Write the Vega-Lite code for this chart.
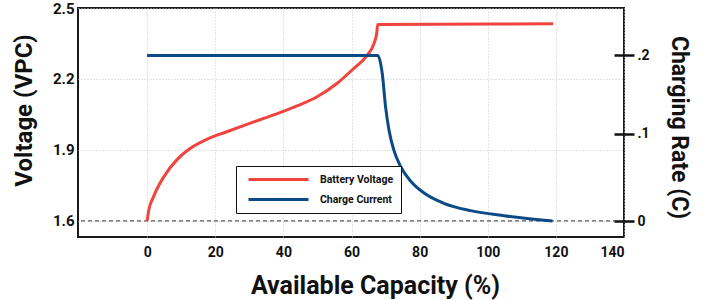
{
  "$schema": "https://vega.github.io/schema/vega-lite/v6.json",
  "width": 546,
  "height": 229,
  "autosize": {"type": "none"},
  "padding": {"left": 78, "top": 8, "right": 84, "bottom": 63},
  "background": "white",
  "config": {
    "font": "Roboto",
    "view": {"stroke": "#1a1a1a", "strokeWidth": 2},
    "axis": {"labelFont": "Roboto", "titleFont": "Roboto", "labelFontWeight": "bold", "titleFontWeight": "bold", "labelColor": "#111", "titleColor": "#111"}
  },
  "datasets": {
    "baseline": [{"level": 1.6}],
    "voltage": [
      {"series": "Battery Voltage", "capacity": 0, "value": 1.6},
      {"series": "Battery Voltage", "capacity": 0.4, "value": 1.64},
      {"series": "Battery Voltage", "capacity": 1.9, "value": 1.703},
      {"series": "Battery Voltage", "capacity": 4.9, "value": 1.787},
      {"series": "Battery Voltage", "capacity": 8.7, "value": 1.858},
      {"series": "Battery Voltage", "capacity": 12.7, "value": 1.907},
      {"series": "Battery Voltage", "capacity": 17.5, "value": 1.945},
      {"series": "Battery Voltage", "capacity": 23.4, "value": 1.977},
      {"series": "Battery Voltage", "capacity": 30.3, "value": 2.013},
      {"series": "Battery Voltage", "capacity": 37.1, "value": 2.048},
      {"series": "Battery Voltage", "capacity": 44.0, "value": 2.086},
      {"series": "Battery Voltage", "capacity": 49.9, "value": 2.125},
      {"series": "Battery Voltage", "capacity": 55.8, "value": 2.182},
      {"series": "Battery Voltage", "capacity": 60.7, "value": 2.245},
      {"series": "Battery Voltage", "capacity": 64.6, "value": 2.3},
      {"series": "Battery Voltage", "capacity": 66.6, "value": 2.35},
      {"series": "Battery Voltage", "capacity": 67.4, "value": 2.393},
      {"series": "Battery Voltage", "capacity": 67.7, "value": 2.43},
      {"series": "Battery Voltage", "capacity": 119.2, "value": 2.433}
    ],
    "current": [
      {"series": "Charge Current", "capacity": 0, "value": 0.2},
      {"series": "Charge Current", "capacity": 67.7, "value": 0.2},
      {"series": "Charge Current", "capacity": 69.0, "value": 0.1774},
      {"series": "Charge Current", "capacity": 70.0, "value": 0.134},
      {"series": "Charge Current", "capacity": 71.0, "value": 0.105},
      {"series": "Charge Current", "capacity": 72.4, "value": 0.0805},
      {"series": "Charge Current", "capacity": 74.4, "value": 0.0605},
      {"series": "Charge Current", "capacity": 77.4, "value": 0.0429},
      {"series": "Charge Current", "capacity": 81.4, "value": 0.0291},
      {"series": "Charge Current", "capacity": 87.1, "value": 0.018},
      {"series": "Charge Current", "capacity": 95.0, "value": 0.0101},
      {"series": "Charge Current", "capacity": 104.8, "value": 0.0049},
      {"series": "Charge Current", "capacity": 119.0, "value": 0.0}
    ]
  },
  "layer": [
    {
      "encoding": {
        "y": {
          "type": "quantitative",
          "scale": {"domain": [1.532, 2.5], "nice": false, "zero": false},
          "axis": {
            "orient": "left",
            "values": [1.6, 1.9, 2.2, 2.5],
            "format": ".1f",
            "title": "Voltage (VPC)",
            "titleFontSize": 24,
            "titleX": -54,
            "titleY": 102,
            "titleAngle": -90,
            "titleAlign": "center",
            "titleBaseline": "middle",
            "labelFontSize": 15,
            "labelPadding": 4,
            "ticks": false,
            "domain": false,
            "grid": true,
            "gridColor": "#c8c8c8",
            "gridDash": [1, 2],
            "gridWidth": 1
          }
        }
      },
      "layer": [
        {
          "data": {"name": "baseline"},
          "mark": {"type": "rule", "color": "#333", "strokeWidth": 1, "strokeDash": [4, 3]},
          "encoding": {
            "y": {"field": "level", "type": "quantitative"}
          }
        },
        {
          "data": {"name": "voltage"},
          "mark": {"type": "line", "strokeWidth": 3, "interpolate": "monotone"},
          "encoding": {
            "x": {
              "field": "capacity",
              "type": "quantitative",
              "scale": {"domain": [-20.3, 140], "nice": false, "zero": false},
              "axis": {
                "values": [0, 20, 40, 60, 80, 100, 120, 140],
                "title": "Available Capacity (%)",
                "titleFontSize": 25,
                "titleX": 297,
                "titleY": 56,
                "titleBaseline": "alphabetic",
                "titleAlign": "center",
                "labelFontSize": 14,
                "labelPadding": 8,
                "ticks": false,
                "domain": false,
                "grid": true,
                "gridColor": "#c8c8c8",
                "gridDash": [1, 2],
                "gridWidth": 1
              }
            },
            "y": {"field": "value", "type": "quantitative"},
            "color": {
              "field": "series",
              "type": "nominal",
              "scale": {"domain": ["Battery Voltage", "Charge Current"], "range": ["#F0443F", "#0B4A86"]},
              "legend": {
                "title": null,
                "orient": "none",
                "legendX": 158,
                "legendY": 158,
                "padding": 7,
                "strokeColor": "#111",
                "fillColor": "white",
                "symbolType": "M-0.2,0H11.8",
                "symbolSize": 100,
                "symbolStrokeWidth": 3,
                "labelOffset": 64,
                "labelFont": "Roboto",
                "labelFontWeight": "bold",
                "labelFontSize": 10.5,
                "labelColor": "#111",
                "rowPadding": 7
              }
            }
          }
        }
      ]
    },
    {
      "data": {"name": "current"},
      "mark": {"type": "line", "strokeWidth": 3, "interpolate": "monotone"},
      "encoding": {
        "x": {"field": "capacity", "type": "quantitative"},
        "color": {"field": "series", "type": "nominal"},
        "y": {
          "field": "value",
          "type": "quantitative",
          "scale": {"type": "pow", "exponent": 0.9276, "domain": [-0.0161, 0.2625], "nice": false, "zero": false},
          "axis": {
            "orient": "right",
            "values": [0, 0.1, 0.2],
            "labelExpr": "datum.value == 0 ? '0' : replace(format(datum.value, '.1f'), '0.', '.')",
            "title": "Charging Rate (C)",
            "titleFontSize": 23,
            "titleX": 64,
            "titleY": 119,
            "titleAngle": 90,
            "titleAlign": "center",
            "titleBaseline": "middle",
            "labelFontSize": 14,
            "labelPadding": 3,
            "offset": -10,
            "ticks": true,
            "tickSize": 20,
            "tickWidth": 2.5,
            "tickColor": "#111",
            "domain": false,
            "grid": false
          }
        }
      }
    }
  ],
  "resolve": {"scale": {"y": "independent"}}
}
